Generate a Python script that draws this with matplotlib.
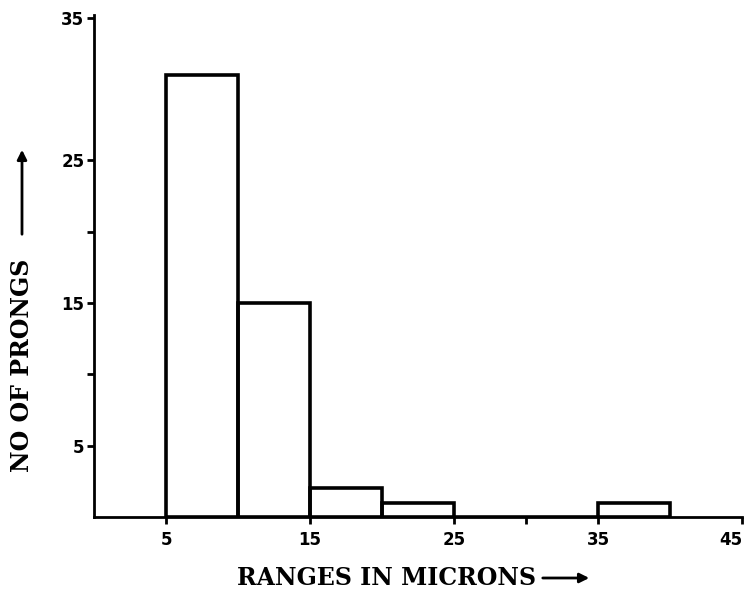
import matplotlib
matplotlib.use("Agg")
import matplotlib.pyplot as plt

# histogram of prong ranges
bin_left = [5, 10, 15, 20, 25, 30, 35]
counts = [31, 15, 2, 1, 0, 0, 1]
bin_width = 5

x_major = [5, 15, 25, 35, 45]
x_minor = [30]
y_major = [5, 15, 25, 35]
y_minor = [10, 20]

fig = plt.figure(figsize=(7.5, 5.97), dpi=100)
ax = fig.add_axes([94 / 750, 80 / 597, 648 / 750, 502 / 597])

ax.bar(bin_left, counts, width=bin_width, align="edge", fill=False,
       edgecolor="black", linewidth=2.6)

ax.set_xlim(0, 45)
ax.set_ylim(0, 35.2)

for s in ["top", "right"]:
    ax.spines[s].set_visible(False)
for s in ["left", "bottom"]:
    ax.spines[s].set_linewidth(2.0)

ax.set_xticks(x_major)
ax.set_xticks(x_minor, minor=True)
ax.set_yticks(y_major)
ax.set_yticks(y_minor, minor=True)
ax.tick_params(which="both", direction="out", length=5, width=2, color="black")
ax.tick_params(axis="x", which="major", labelsize=12, pad=5)
ax.tick_params(axis="y", which="major", labelsize=12, pad=2)
for lbl in ax.get_xticklabels() + ax.get_yticklabels():
    lbl.set_fontweight("bold")
# last x label sits at the figure edge, nudge it inward
ax.get_xticklabels()[-1].set_horizontalalignment("right")

# axis titles, hand lettered look
fig.text(237 / 750, 19 / 597, "RANGES IN MICRONS", fontsize=17, fontweight="bold",
         family="DejaVu Serif", ha="left", va="center")
fig.text(22 / 750, 232 / 597, "NO OF PRONGS", fontsize=17, fontweight="bold",
         family="DejaVu Serif", ha="center", va="center", rotation=90)

ax.annotate("", xy=(592, 19), xytext=(540, 19), xycoords="figure pixels",
            textcoords="figure pixels", annotation_clip=False,
            arrowprops=dict(arrowstyle="-|>", lw=2, color="black", mutation_scale=14))
ax.annotate("", xy=(22, 450), xytext=(22, 360), xycoords="figure pixels",
            textcoords="figure pixels", annotation_clip=False,
            arrowprops=dict(arrowstyle="-|>", lw=2, color="black", mutation_scale=14))

fig.savefig("out.png", dpi=100)
